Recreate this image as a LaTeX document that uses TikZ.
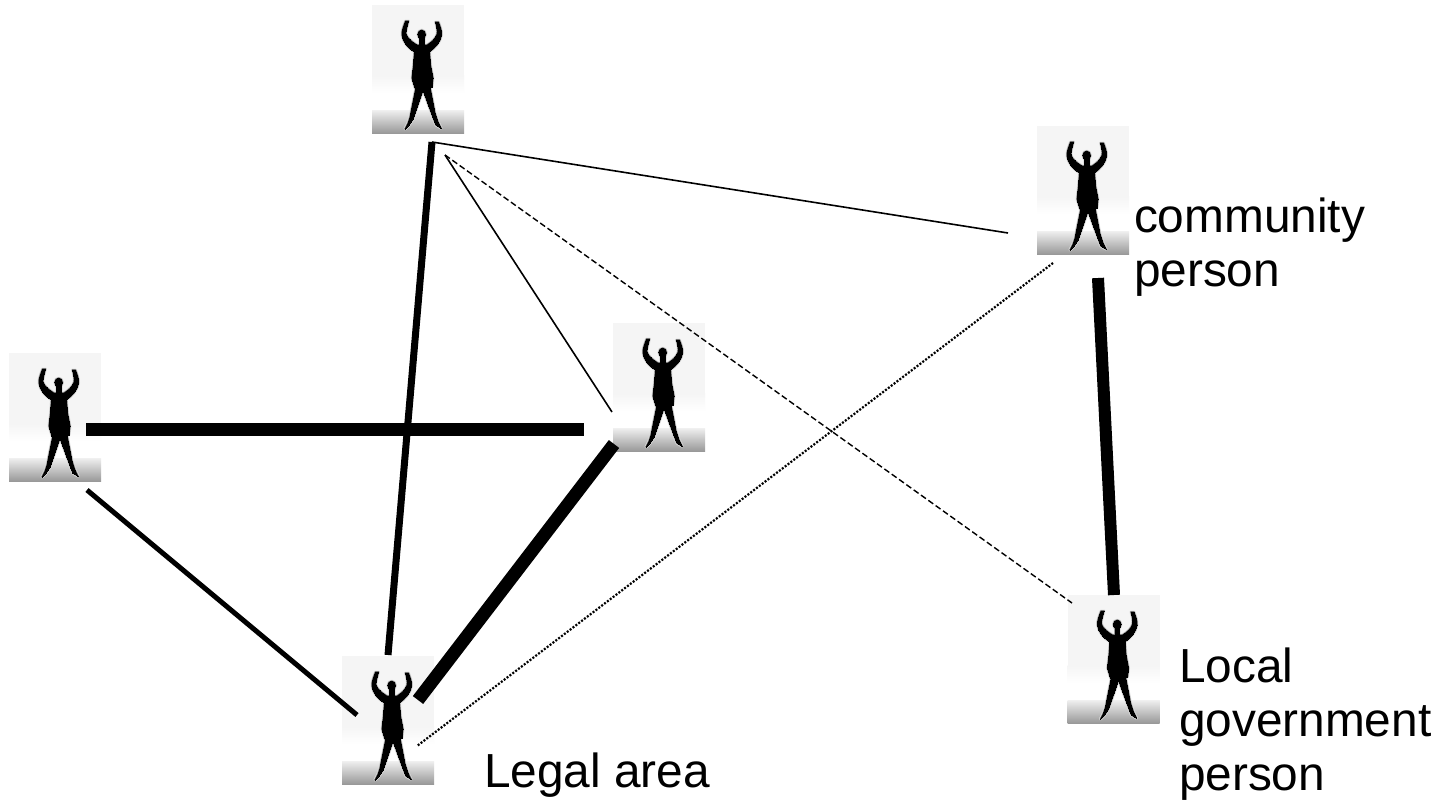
\documentclass[tikz,border=0pt]{standalone}
\usepackage{fontspec}
\setmainfont{Liberation Sans}
\usetikzlibrary{calc}
\newcommand{\figureshape}[2]{%
  \begin{scope}[shift={(#1.north west)},line join=round,line cap=round,#2]
    % left arm
    \filldraw (33.5,16) -- (36.5,16) .. controls (35,22) and (33.5,26) .. (34,29) .. controls (35,33) and (40,37) .. (45,40) -- (43,47) .. controls (36,43) and (31,37) .. (30,30) .. controls (29.5,26) and (32,20) .. (33.5,16) -- cycle;
    % right arm
    \filldraw (66.5,17) -- (63.5,17) .. controls (65,22) and (65.5,26) .. (65,29) .. controls (64,33) and (60,37) .. (55,40) -- (57,47) .. controls (63,43) and (68.5,37) .. (69.5,30) .. controls (70,26) and (68,21) .. (66.5,17) -- cycle;
    % head and neck
    \filldraw (49.7,29.5) circle[x radius=3.8pt,y radius=4.4pt];
    \filldraw (47.5,32) rectangle (52,40);
    % torso
    \filldraw (43,40) -- (57,40) -- (58.5,60) -- (61,73) -- (60,82) -- (43,83) -- (40,73) -- (41.5,60) -- cycle;
    % legs
    \filldraw (44,82) -- (52,82) -- (41,114) -- (37,120) -- (33,124) -- (36,118) -- (38,112) -- cycle;
    \filldraw (50,82) -- (58,82) -- (63,108) -- (66,117) -- (69,123) -- (64,120) -- (62,115) -- cycle;
  \end{scope}}
\newcommand{\personfigure}[1]{%
  \begin{scope}[shift={(#1.north west)}]
    \fill[black!4] (0,0) rectangle (92,128);
    \shade[top color=black!4,bottom color=white] (0,70) rectangle (92,88);
    \fill[white] (0,88) rectangle (92,105);
    \shade[top color=black!6,bottom color=black!40] (0,105) rectangle (92,128);
  \end{scope}
  \figureshape{#1}{draw=black!12,fill=black!12,line width=3pt}
  \figureshape{#1}{draw=black!40,fill=black!40,line width=1.8pt}
  \figureshape{#1}{draw=black!75,fill=black!75,line width=0.8pt}
  \figureshape{#1}{draw=black,fill=black,line width=0pt}}
\tikzset{
  person/.style={rectangle,inner sep=0pt,outer sep=0pt,minimum width=92pt,minimum height=128pt},
  label text/.style={inner sep=0pt,outer sep=0pt,anchor=base west,align=left,font=\fontsize{47.8}{54}\selectfont},
  link/.style={black,line cap=butt},
  hair/.style={link,line width=1.6pt},
  fine dashed/.style={link,line width=1.4pt,dash pattern=on 6pt off 3pt},
  fine dotted/.style={link,line width=2.2pt,dash pattern=on 2pt off 1.6pt},
}
\begin{document}
\begin{tikzpicture}[x=1pt,y=-1pt]
\useasboundingbox (0,0) rectangle (1456,809);
\fill[white] (0,0) rectangle (1456,809);
\node[person] (top) at (418,69) {};
\node[person] (community) at (1083,190) {};
\node[person] (middle) at (659,387) {};
\node[person] (left) at (55,417) {};
\node[person] (legal) at (388,720) {};
\node[person] (government) at (1113.5,659) {};
\personfigure{top}
\personfigure{community}
\personfigure{middle}
\personfigure{left}
\personfigure{legal}
\personfigure{government}

\coordinate (a1) at (432,142);
\coordinate (a2) at (445,155);
\coordinate (b1) at (388,655);
\coordinate (c1) at (1008,233);
\coordinate (d1) at (612,412);
\coordinate (e1) at (1072,603);
\coordinate (f1) at (1053,263);
\coordinate (f2) at (417,746);
\coordinate (g1) at (86,429);
\coordinate (g2) at (584,429);
\coordinate (h1) at (614,444);
\coordinate (h2) at (418,700);
\coordinate (i1) at (87,490);
\coordinate (i2) at (357,715);
\coordinate (j1) at (1098,278);
\coordinate (j2) at (1114,595);

\draw[link,line width=7pt] (a1) -- (b1);
\draw[hair] (a1) -- (c1);
\draw[hair] (a2) -- (d1);
\draw[fine dashed] (a2) -- (e1);
\draw[fine dotted] (f1) -- (f2);
\draw[link,line width=13pt] (g1) -- (g2);
\draw[link,line width=13pt] (h1) -- (h2);
\draw[link,line width=5pt] (i1) -- (i2);
\draw[link,line width=12pt] (j1) -- (j2);

\node[label text] (t1) at (1134,286) {community\\person};
\node[label text] (t2) at (484,787) {Legal area};
\node[label text] (t3) at (1179,790) {Local\\government\\person};
\end{tikzpicture}
\end{document}
